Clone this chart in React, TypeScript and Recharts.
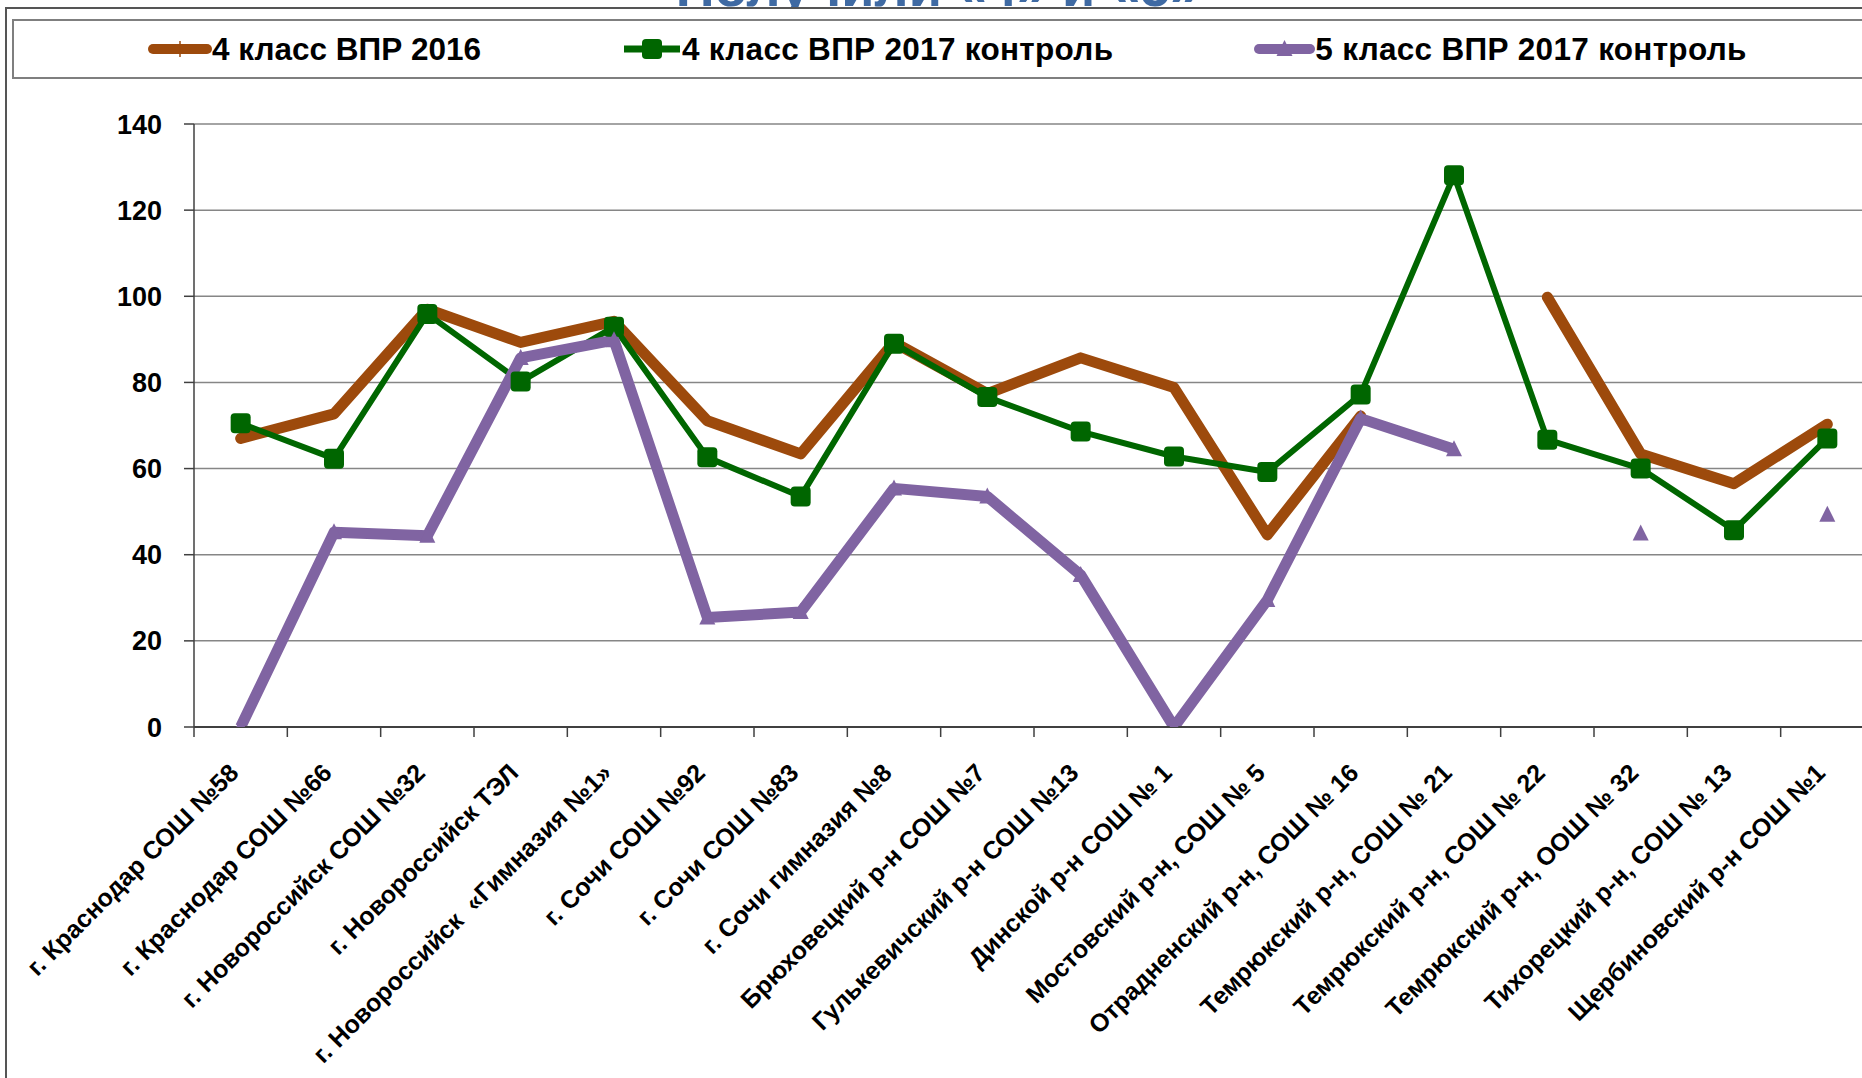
import React from 'react';
import { LineChart, Line, XAxis, YAxis, CartesianGrid, Legend } from 'recharts';

const categories = [
  'г. Краснодар СОШ №58',
  'г. Краснодар СОШ №66',
  'г. Новороссийск СОШ №32',
  'г. Новороссийск ТЭЛ',
  'г. Новороссийск  «Гимназия №1»',
  'г. Сочи СОШ №92',
  'г. Сочи СОШ №83',
  'г. Сочи гимназия №8',
  'Брюховецкий р-н СОШ №7',
  'Гулькевичский р-н СОШ №13',
  'Динской р-н СОШ № 1',
  'Мостовский р-н, СОШ № 5',
  'Отрадненский р-н, СОШ № 16',
  'Темрюкский р-н, СОШ № 21',
  'Темрюкский р-н, СОШ № 22',
  'Темрюкский р-н, ООШ № 32',
  'Тихорецкий р-н, СОШ № 13',
  'Щербиновский р-н СОШ №1',
];

const grade4vpr2016 = [67, 72.7, 97, 89.3, 94.2, 71.1, 63.4, 89.3, 77.4, 85.7, 78.8, 44.6, 72.2, null, 99.8, 63.4, 56.5, 70.3];
const grade4vpr2017 = [70.5, 62.3, 95.9, 80.2, 92.9, 62.6, 53.5, 89, 76.6, 68.6, 62.8, 59.2, 77.2, 128.1, 66.7, 60, 45.7, 67];
const grade5vpr2017 = [0, 45.2, 44.4, 85.7, 89.8, 25.4, 26.7, 55.4, 53.5, 35.3, 0, 29.5, 71.6, 64.5, null, 44.9, null, 49.3];

const seriesNames = ['4 класс ВПР 2016', '4 класс ВПР 2017 контроль', '5 класс ВПР 2017 контроль'];
const yTicks = [0, 20, 40, 60, 80, 100, 120, 140];
const titleText = 'Получили «4» и «5»';

const data = categories.map((name, i) => ({
  name,
  s1: grade4vpr2016[i],
  s2: grade4vpr2017[i],
  s3: grade5vpr2017[i],
}));

const FONT = "'Liberation Sans', Arial, sans-serif";
const BROWN = '#9d4a0c';
const GREEN = '#006600';
const PURPLE = '#8064a2';

const CHART_W = 1874;
const CHART_H = 1078;
const PLOT_L = 194;
const PLOT_W = CHART_W - PLOT_L;

const XTick = (props: any) => {
  const { x, y, payload } = props;
  const step = PLOT_W / categories.length;
  const tx = x - 7;
  const ty = y + 41;
  return (
    <g>
      <line x1={x - step / 2} x2={x - step / 2} y1={y} y2={y + 10} stroke="#404040" strokeWidth={1.5} />
      <text
        x={tx}
        y={ty}
        transform={`rotate(-45 ${tx} ${ty})`}
        textAnchor="end"
        dominantBaseline="central"
        style={{ whiteSpace: 'pre' }}
        fontFamily={FONT}
        fontSize={25}
        fontWeight="bold"
        fill="#000"
      >
        {payload.value}
      </text>
    </g>
  );
};

const SquareDot = (props: any) => {
  const { cx, cy, value, index } = props;
  if (cx == null || cy == null || value == null) return <g key={`sq-${index}`} />;
  return <rect key={`sq-${index}`} x={cx - 10} y={cy - 10} width={20} height={20} rx={4} ry={4} fill={GREEN} />;
};

const TriangleDot = (props: any) => {
  const { cx, cy, value, index } = props;
  if (cx == null || cy == null || value == null) return <g key={`tr-${index}`} />;
  return (
    <polygon
      key={`tr-${index}`}
      points={`${cx},${cy - 9} ${cx + 8},${cy + 7} ${cx - 8},${cy + 7}`}
      fill={PURPLE}
    />
  );
};

const LegendMarker = ({ idx }: { idx: number }) => {
  if (idx === 0) {
    return (
      <svg width={64} height={24} style={{ display: 'block' }}>
        <line x1={5} x2={59} y1={12} y2={12} stroke={BROWN} strokeWidth={10} strokeLinecap="round" />
        <line x1={32} x2={32} y1={4} y2={20} stroke={BROWN} strokeWidth={1.5} />
      </svg>
    );
  }
  if (idx === 1) {
    return (
      <svg width={60} height={24} style={{ display: 'block' }}>
        <line x1={2} x2={58} y1={12} y2={12} stroke={GREEN} strokeWidth={7} />
        <rect x={20} y={2} width={20} height={20} rx={4} ry={4} fill={GREEN} />
      </svg>
    );
  }
  return (
    <svg width={61} height={24} style={{ display: 'block' }}>
      <line x1={5} x2={56} y1={12} y2={12} stroke={PURPLE} strokeWidth={10} strokeLinecap="round" />
      <polygon points="30.5,3 38.5,19 22.5,19" fill={PURPLE} />
    </svg>
  );
};

const renderLegend = (props: any) => {
  const payload = props.payload || [];
  return (
    <div
      style={{
        display: 'flex',
        alignItems: 'center',
        height: '100%',
        paddingLeft: 134,
        gap: 141,
        fontFamily: FONT,
        fontWeight: 'bold',
        fontSize: 31.5,
        color: '#000',
        whiteSpace: 'nowrap',
      }}
    >
      {payload.map((entry: any, i: number) => {
        const idx = seriesNames.indexOf(entry.value);
        return (
          <div key={`leg-${i}`} style={{ display: 'flex', alignItems: 'center' }}>
            <LegendMarker idx={idx} />
            <span style={{ letterSpacing: idx === 0 ? 0 : 0.3 }}>{entry.value}</span>
          </div>
        );
      })}
    </div>
  );
};

export default function App() {
  return (
    <div
      style={{
        position: 'absolute',
        left: 0,
        top: 0,
        width: 1862,
        height: 1078,
        overflow: 'hidden',
        background: '#fff',
      }}
    >
      <svg width={1862} height={7} style={{ position: 'absolute', left: 0, top: 0 }}>
        <text x={938} y={6} textAnchor="middle" fontFamily={FONT} fontSize={54} fontWeight="bold" fill="#3f6aa3">
          {titleText}
        </text>
      </svg>
      <div
        style={{
          position: 'absolute',
          left: 5,
          top: 7,
          width: 1900,
          height: 1100,
          borderLeft: '2px solid #555',
          borderTop: '2px solid #555',
        }}
      />
      <div style={{ position: 'absolute', left: 0, top: 0 }}>
        <LineChart width={CHART_W} height={CHART_H} data={data} margin={{ top: 124, right: 0, bottom: 0, left: 0 }}>
          <CartesianGrid vertical={false} stroke="#868686" strokeWidth={1.5} />
          <XAxis
            dataKey="name"
            scale="band"
            interval={0}
            height={351}
            tickSize={0}
            tickMargin={0}
            tickLine={false}
            axisLine={{ stroke: '#404040', strokeWidth: 2 }}
            tick={<XTick />}
          />
          <YAxis
            domain={[0, 140]}
            ticks={yTicks}
            width={PLOT_L}
            tickSize={10}
            tickMargin={22}
            axisLine={{ stroke: '#404040', strokeWidth: 1.5 }}
            tickLine={{ stroke: '#404040', strokeWidth: 1.5 }}
            tick={{ fontSize: 27, fontWeight: 'bold', fill: '#000', fontFamily: FONT }}
            allowDataOverflow
          />
          <Legend
            verticalAlign="middle"
            layout="horizontal"
            align="center"
            content={renderLegend}
            wrapperStyle={{
              top: 19,
              left: 12,
              width: 1865,
              height: 60,
              border: '2px solid #7f7f7f',
              boxSizing: 'border-box',
              background: '#fff',
            }}
          />
          <Line
            type="linear"
            dataKey="s1"
            name={seriesNames[0]}
            stroke={BROWN}
            strokeWidth={11}
            strokeLinejoin="round"
            strokeLinecap="round"
            dot={false}
            activeDot={false}
            connectNulls={false}
            isAnimationActive={false}
          />
          <Line
            type="linear"
            dataKey="s2"
            name={seriesNames[1]}
            stroke={GREEN}
            strokeWidth={6}
            strokeLinejoin="round"
            dot={<SquareDot />}
            activeDot={false}
            connectNulls={false}
            isAnimationActive={false}
          />
          <Line
            type="linear"
            dataKey="s3"
            name={seriesNames[2]}
            stroke={PURPLE}
            strokeWidth={11}
            strokeLinejoin="round"
            dot={<TriangleDot />}
            activeDot={false}
            connectNulls={false}
            isAnimationActive={false}
          />
        </LineChart>
      </div>
    </div>
  );
}
